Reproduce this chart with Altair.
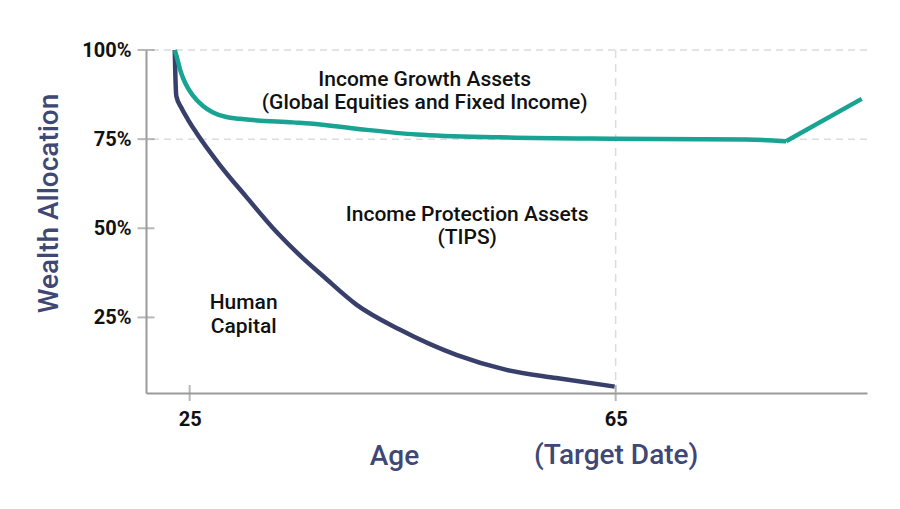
import altair as alt
import pandas as pd

# ---- data ----
hc_age = [23.6, 23.65, 23.75, 24.22, 24.84, 25.63, 27.82, 30.32, 33.14, 35.96, 37.52, 40.65, 44.72, 50.04, 54.74, 59.43, 64.9]
hc_pct = [1.00, 0.936, 0.870, 0.838, 0.805, 0.768, 0.678, 0.588, 0.490, 0.407, 0.366, 0.286, 0.216, 0.145, 0.103, 0.080, 0.056]

# growth assets: curved part, then the straight rise after the corner
ga_age = [23.6, 23.75, 23.9, 24.1, 24.37, 24.84, 25.31, 26.25, 27.19, 28.45, 29.7, 34.7, 36.3, 41.0, 46.3, 54.1, 65.0, 77.3, 81.0]
ga_pct = [1.00, 0.985, 0.968, 0.945, 0.922, 0.893, 0.872, 0.843, 0.825, 0.812, 0.807, 0.797, 0.794, 0.778, 0.763, 0.755, 0.751, 0.749, 0.744]
ga_tail_age = [81.0, 88.1]
ga_tail_pct = [0.744, 0.863]

y_ticks = [0.25, 0.50, 0.75, 1.00]
x_ticks = [25, 65]
grid_y = [1.00, 0.75]
target_age = [65]

label_text = ["Income Growth Assets", "(Global Equities and Fixed Income)",
              "Income Protection Assets", "(TIPS)", "Human", "Capital"]
label_age = [47.07, 47.07, 51.06, 51.06, 30.07, 30.07]
label_pct = [0.915, 0.852, 0.538, 0.474, 0.291, 0.224]

target_text = ["(Target Date)"]
target_text_age = [65.05]
target_text_pct = [-0.138]

X_DOMAIN = [20.9, 88.6]
Y_DOMAIN = [0.038, 1.0]

NAVY = "#383f6b"
TEAL = "#19a393"
AXIS_GREY = "#9a9a9a"
GRID_GREY = "#dcdcdc"
TITLE_NAVY = "#3f4775"
FONT = "Roboto"

x_scale = alt.Scale(domain=X_DOMAIN, nice=False, zero=False)
y_scale = alt.Scale(domain=Y_DOMAIN, nice=False, zero=False)

x_axis = alt.Axis(
    title="Age", values=x_ticks, format="d", ticks=False, tickSize=0,
    labelPadding=16, labelFontSize=20, labelFont=FONT, labelFontWeight=700,
    labelColor="#111111", domainColor=AXIS_GREY, domainWidth=2, grid=False,
    titleX=248, titleY=63, titleFontSize=28, titleFont=FONT, titleFontWeight=500,
    titleColor=TITLE_NAVY, titleBaseline="middle", titleAlign="center",
)
y_axis = alt.Axis(
    title="Wealth Allocation", values=y_ticks, format=".0%", ticks=False, tickSize=0,
    labelPadding=15, labelFontSize=20, labelFont=FONT, labelFontWeight=700,
    labelColor="#111111", domainColor=AXIS_GREY, domainWidth=2, grid=False,
    titleX=-97, titleY=153, titleAngle=270, titleFontSize=28, titleFont=FONT,
    titleFontWeight=500, titleColor=TITLE_NAVY, titleBaseline="middle", titleAlign="center",
)

X = alt.X("age:Q", scale=x_scale, axis=x_axis)
Y = alt.Y("pct:Q", scale=y_scale, axis=y_axis)

hc_df = pd.DataFrame({"age": hc_age, "pct": hc_pct})
ga_df = pd.DataFrame({"age": ga_age, "pct": ga_pct})
ga_tail_df = pd.DataFrame({"age": ga_tail_age, "pct": ga_tail_pct})
grid_df = pd.DataFrame({"pct": grid_y})
vline_df = pd.DataFrame({"age": target_age})
yt_df = pd.DataFrame({"age": [X_DOMAIN[0]] * len(y_ticks), "pct": y_ticks})
xt_df = pd.DataFrame({"age": x_ticks, "pct": [Y_DOMAIN[0]] * len(x_ticks)})
lab_df = pd.DataFrame({"age": label_age, "pct": label_pct, "text": label_text})
tgt_df = pd.DataFrame({"age": target_text_age, "pct": target_text_pct, "text": target_text})

grid = alt.Chart(grid_df).mark_rule(color=GRID_GREY, strokeWidth=1.5, strokeDash=[7, 5]).encode(y=Y)
vline = alt.Chart(vline_df).mark_rule(color=GRID_GREY, strokeWidth=1.5, strokeDash=[8, 6]).encode(x=X)
yticks = alt.Chart(yt_df).mark_tick(orient="horizontal", size=17, thickness=2, color=AXIS_GREY).encode(x=X, y=Y)
xticks = alt.Chart(xt_df).mark_tick(orient="vertical", size=16, thickness=2, color=AXIS_GREY).encode(x=X, y=Y)

hc_line = alt.Chart(hc_df).mark_line(color=NAVY, strokeWidth=4.5, interpolate="monotone",
                                     strokeCap="butt", strokeJoin="round").encode(x=X, y=Y, order="age:Q")
ga_line = alt.Chart(ga_df).mark_line(color=TEAL, strokeWidth=4.5, interpolate="monotone",
                                     strokeCap="butt", strokeJoin="round").encode(x=X, y=Y, order="age:Q")
ga_tail = alt.Chart(ga_tail_df).mark_line(color=TEAL, strokeWidth=4.5, interpolate="linear",
                                          strokeCap="butt", strokeJoin="round").encode(x=X, y=Y, order="age:Q")

labels = alt.Chart(lab_df).mark_text(font=FONT, fontSize=21, fontWeight=500, color="#111111",
                                     align="center", baseline="middle").encode(x=X, y=Y, text="text:N")
tgt = alt.Chart(tgt_df).mark_text(font=FONT, fontSize=28, fontWeight=500, color=TITLE_NAVY,
                                  align="center", baseline="middle").encode(x=X, y=Y, text="text:N")

chart = alt.layer(grid, vline, yticks, xticks, hc_line, ga_line, ga_tail, labels, tgt).properties(
    width=721, height=343,
    autosize=alt.AutoSizeParams(type="none"),
    padding={"left": 138, "top": 42, "right": 20, "bottom": 100},
    background="white",
).configure_view(stroke=None)

chart.save("out.html", embed_options={"renderer": "svg", "actions": False})
